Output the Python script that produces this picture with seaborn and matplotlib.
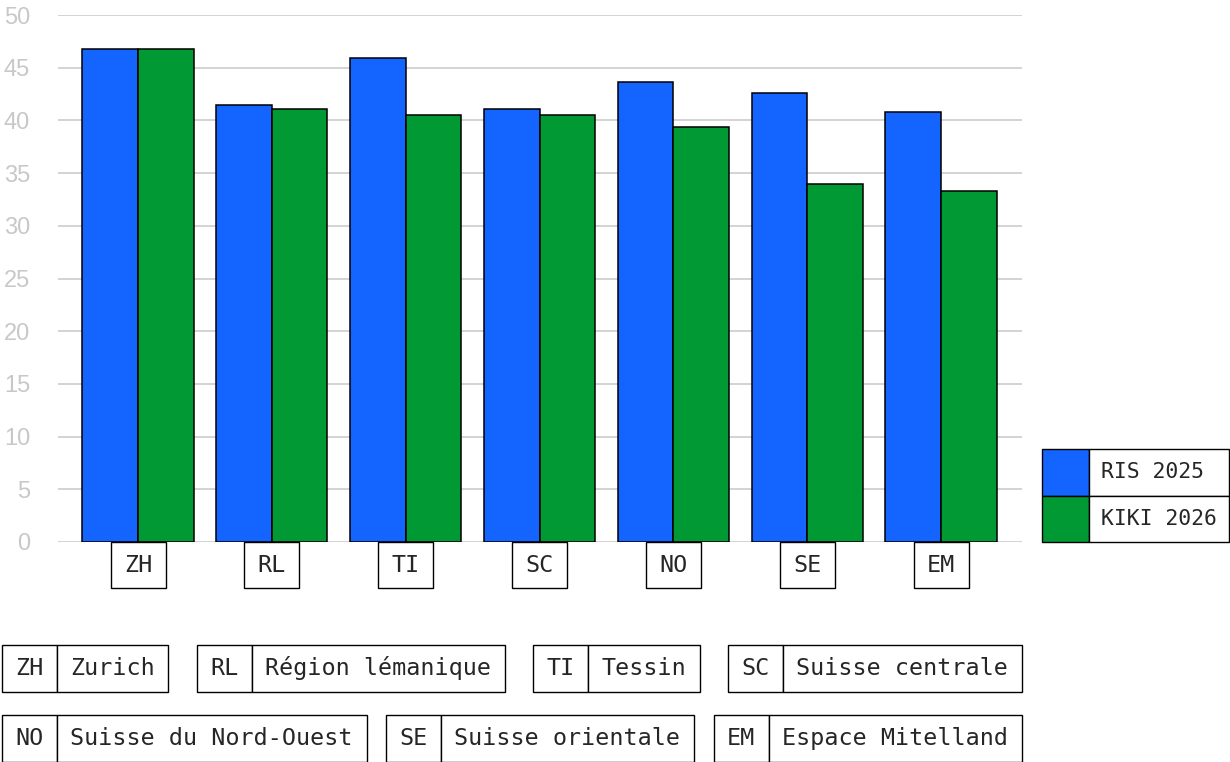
import pandas as pd
import seaborn as sns
import matplotlib.pyplot as plt
from matplotlib.patches import Rectangle
from matplotlib.transforms import blended_transform_factory

# Data
regions = ['ZH', 'RL', 'TI', 'SC', 'NO', 'SE', 'EM']
region_names = ['Zurich', 'Région lémanique', 'Tessin', 'Suisse centrale',
                'Suisse du Nord-Ouest', 'Suisse orientale', 'Espace Mitelland']
series = ['RIS 2025', 'KIKI 2026']
ris_2025 = [46.8, 41.5, 45.9, 41.1, 43.6, 42.6, 40.8]
kiki_2026 = [46.8, 41.1, 40.5, 40.5, 39.4, 34.0, 33.3]

BLUE = '#1465ff'
GREEN = '#009933'
MONO = 'DejaVu Sans Mono'

df = pd.DataFrame({
    'region': regions * 2,
    'value': ris_2025 + kiki_2026,
    'series': [series[0]] * len(regions) + [series[1]] * len(regions),
})

sns.set_style('white')
plt.rcParams['font.family'] = [MONO, 'DejaVu Sans']

W, H = 1230, 762
fig = plt.figure(figsize=(W / 100, H / 100), dpi=100)
ax = fig.add_axes([58 / W, (H - 542) / H, (1022 - 58) / W, (542 - 15) / H])

sns.barplot(data=df, x='region', y='value', hue='series', palette=[BLUE, GREEN],
            width=0.83, edgecolor='black', linewidth=1.1, saturation=1,
            legend=False, ax=ax)

ax.set_xlim(-0.598, 6.605)
ax.set_ylim(0, 50)
ax.set_yticks(range(0, 51, 5))
ax.set_xlabel('')
ax.set_ylabel('')
ax.grid(axis='y', color='#cccccc', linewidth=1.2)
ax.set_axisbelow(True)
for s in ax.spines.values():
    s.set_visible(False)
ax.tick_params(length=0)
ax.tick_params(axis='y', pad=20, labelcolor='#c8c8c8', labelsize=17)
for lab in ax.get_yticklabels():
    lab.set_fontfamily('Liberation Sans')
ax.set_xticklabels([])

# boxed category labels under the bars
tr = blended_transform_factory(ax.transData, ax.transAxes)
bw = 55 / (964 / 7.203)
bh = 46 / 527
for i, code in enumerate(regions):
    ax.add_patch(Rectangle((i - bw / 2, -bh), bw, bh, transform=tr, fill=False,
                           edgecolor='black', linewidth=1, clip_on=False))
    ax.text(i, -bh / 2, code, transform=tr, ha='center', va='center',
            fontsize=16.8, family=MONO)


def fx(x):
    return x / W


def fy(y):
    return (H - y) / H


def box(x0, y0, x1, y1, **kw):
    fig.add_artist(Rectangle((fx(x0), fy(y1)), fx(x1) - fx(x0), fy(y0) - fy(y1),
                             transform=fig.transFigure, linewidth=1,
                             edgecolor='black', **kw))


# series legend on the right
lx0, ldiv, lx1 = 1042, 1089, 1229
rows_y = [449, 495.5, 542]
for j, (name, col) in enumerate(zip(series, [BLUE, GREEN])):
    y0, y1 = rows_y[j], rows_y[j + 1]
    box(lx0, y0, ldiv, y1, facecolor=col)
    box(ldiv, y0, lx1, y1, facecolor='white')
    fig.text(fx(ldiv + 12), fy((y0 + y1) / 2), name, ha='left', va='center',
             fontsize=15.4, family=MONO)

# abbreviation key at the bottom
char_w = 14.2
code_w = 55
rows = [(list(range(0, 4)), 645, 692), (list(range(4, 7)), 715, 762)]
for idx, y0, y1 in rows:
    widths = [code_w + 26 + char_w * len(region_names[k]) for k in idx]
    gap = (1020 - sum(widths)) / (len(idx) - 1)
    x = 2
    for k, w in zip(idx, widths):
        box(x, y0, x + code_w, y1, facecolor='white')
        box(x + code_w, y0, x + w, y1, facecolor='white')
        fig.text(fx(x + code_w / 2), fy((y0 + y1) / 2), regions[k], ha='center',
                 va='center', fontsize=16.8, family=MONO)
        fig.text(fx(x + code_w + 13), fy((y0 + y1) / 2), region_names[k],
                 ha='left', va='center', fontsize=16.8, family=MONO)
        x += w + gap

fig.savefig('out.png', dpi=100)
